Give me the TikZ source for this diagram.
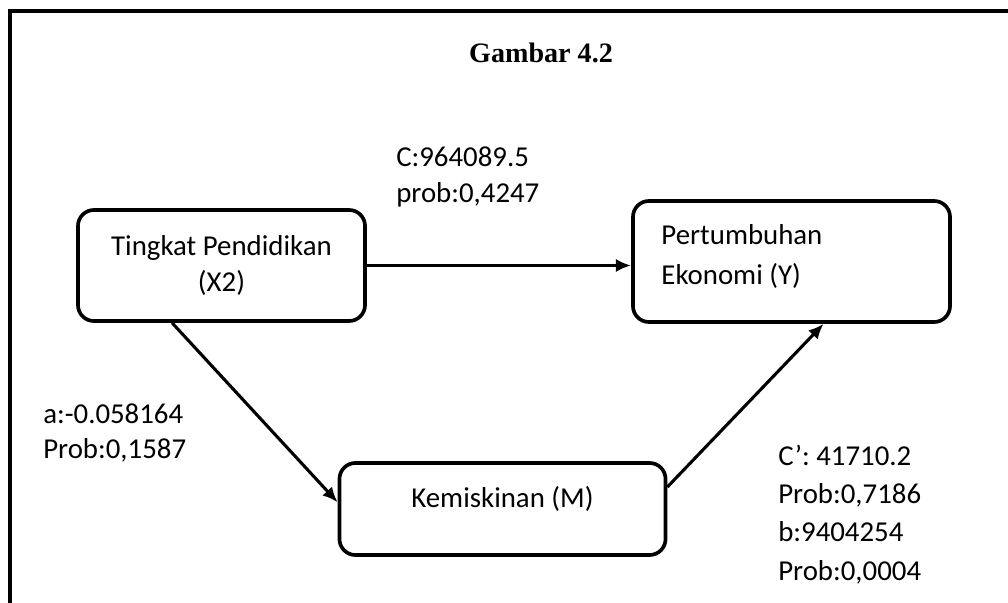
\documentclass[tikz,border=0pt]{standalone}
\usepackage{fontspec}
\setmainfont{Carlito}
\newfontfamily\titlefont{Liberation Serif}
\usetikzlibrary{arrows.meta,positioning,calc}

\begin{document}
\begin{tikzpicture}[x=0.025cm, y=-0.025cm, >={Latex[length=3.8mm,width=3.3mm]},
  box/.style={draw, line width=2.6pt, rounded corners=0.4cm},
  arr/.style={->, line width=2.2pt},
  txt/.style={font=\fontsize{20.5}{25.6}\selectfont},
  lbl/.style={txt, anchor=base west, align=left, inner sep=0pt}]
  % ukuran gambar (piksel)
  \useasboundingbox (0,0) rectangle (1008,603);

  % bingkai (hanya atas dan kiri)
  \draw[line width=3.5pt] (10,603) -- (10,11) -- (1008,11);

  \node[font=\titlefont\bfseries\fontsize{20}{24}\selectfont, anchor=base] (judul) at (541,63) {Gambar 4.2};

  % kotak variabel
  \node[box, txt, align=center, minimum width=7.175cm, minimum height=2.775cm] (x2) at (221.5,265.5)
    {Tingkat Pendidikan\\(X2)};
  \node[box, font=\fontsize{20.5}{28.4}\selectfont, align=flush left, text width=6.5cm, inner xsep=0.7cm,
    text depth=1.34cm, minimum width=7.925cm, minimum height=3.025cm] (y) at (791.5,261.5)
    {Pertumbuhan\\Ekonomi (Y)};
  \node[box, txt, text depth=0.6cm, minimum width=8.15cm, minimum height=2.3cm] (m) at (502.5,509)
    {Kemiskinan (M)};

  % panah
  \draw[arr] (x2.east) -- (x2.east -| y.west);
  \draw[arr] ($(x2.south west)!0.33!(x2.south east)$) -- ($(m.north west)!0.43!(m.south west)$);
  \draw[arr] ($(m.north east)!0.27!(m.south east)$) -- ($(y.south west)!0.6!(y.south east)$);

  % koefisien (base = baris terakhir)
  \node[lbl] (lc) at (396,203) {C:964089.5\\prob:0,4247};
  \node[lbl] (la) at (43,459) {a:-0.058164\\Prob:0,1587};
  \node[lbl, font=\fontsize{20.5}{27.2}\selectfont] (lb) at (778,580)
    {C’: 41710.2\\Prob:0,7186\\b:9404254\\Prob:0,0004};
\end{tikzpicture}
\end{document}
